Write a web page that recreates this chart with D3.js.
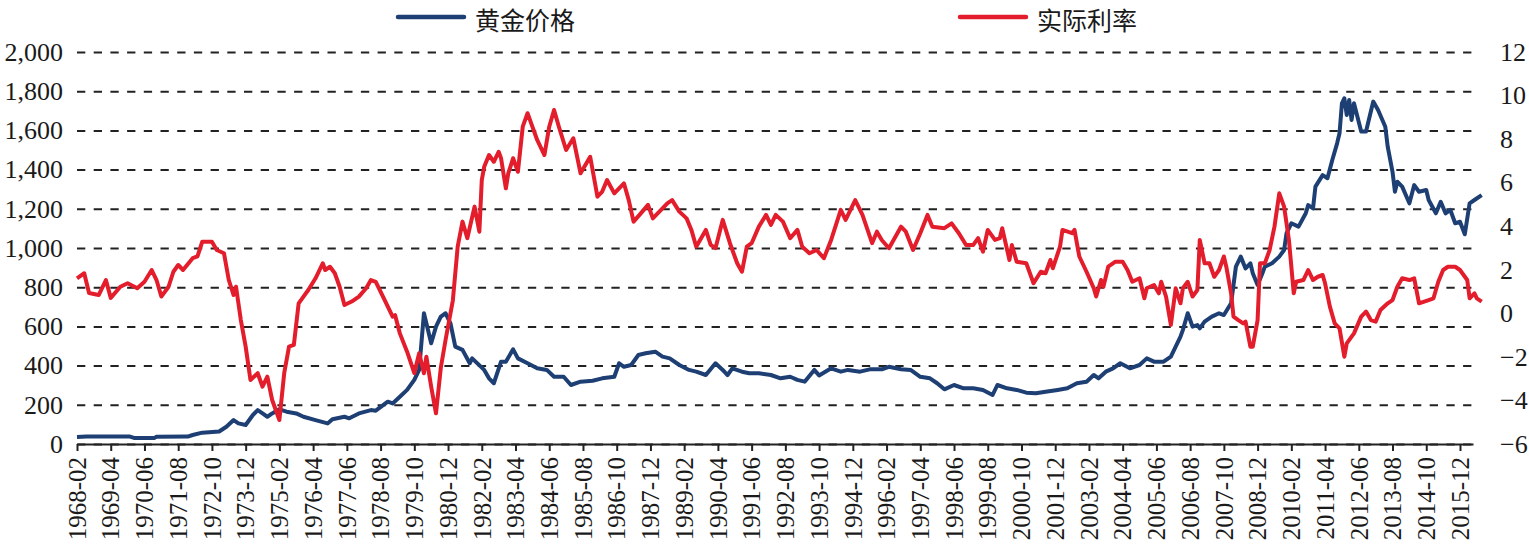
<!DOCTYPE html>
<html>
<head>
<meta charset="utf-8">
<script src="https://cdn.jsdelivr.net/npm/d3@7"></script>
<style>
  body { margin: 0; background: #fff; }
  svg text { fill: #1a1a1a; }
</style>
</head>
<body>
<svg id="chart" width="1529" height="547"></svg>
<script>
// gold price, USD/oz (left axis)
const goldSeries = [
  ['1968-02',36],['1968-06',38],['1969-12',38],['1970-02',30],['1970-10',30],['1970-11',37],
  ['1971-12',38],['1972-02',46],['1972-06',58],['1973-01',64],['1973-04',88],['1973-07',122],
  ['1973-09',105],['1973-12',97],['1974-03',148],['1974-05',173],['1974-07',156],['1974-09',139],
  ['1974-11',156],['1975-02',177],['1975-05',165],['1975-09',156],['1975-12',139],['1976-05',122],
  ['1976-10',105],['1976-12',126],['1977-05',139],['1977-07',131],['1977-11',156],['1978-04',173],
  ['1978-06',170],['1978-11',216],['1979-01',207],['1979-04',241],['1979-07',276],['1979-10',327],
  ['1979-12',378],['1980-02',667],['1980-03',616],['1980-05',514],['1980-07',599],['1980-09',650],
  ['1980-11',667],['1981-01',616],['1981-03',497],['1981-06',480],['1981-09',412],['1981-10',437],
  ['1982-03',378],['1982-05',335],['1982-07',310],['1982-10',420],['1982-12',420],['1983-03',483],
  ['1983-05',437],['1983-09',412],['1984-01',386],['1984-05',378],['1984-08',343],['1984-12',343],
  ['1985-03',301],['1985-07',318],['1985-12',323],['1986-04',335],['1986-09',343],['1986-11',412],
  ['1987-01',394],['1987-04',403],['1987-07',454],['1987-10',463],['1988-02',471],['1988-05',446],
  ['1988-08',437],['1988-12',403],['1989-04',378],['1989-07',369],['1989-11',352],['1990-03',412],
  ['1990-06',378],['1990-08',352],['1990-10',386],['1991-02',369],['1991-05',361],['1991-09',361],
  ['1992-02',352],['1992-06',335],['1992-10',343],['1993-01',327],['1993-04',318],['1993-08',378],
  ['1993-10',350],['1994-03',386],['1994-07',369],['1994-10',378],['1995-03',369],['1995-07',381],
  ['1995-12',381],['1996-03',394],['1996-08',381],['1996-12',378],['1997-04',343],['1997-08',335],
  ['1997-11',310],['1998-02',279],['1998-06',301],['1998-10',284],['1999-02',284],['1999-06',276],
  ['1999-10',250],['1999-12',301],['2000-04',284],['2000-08',276],['2000-12',262],['2001-04',259],
  ['2001-08',267],['2002-01',276],['2002-05',284],['2002-09',310],['2003-01',318],['2003-04',352],
  ['2003-06',335],['2003-09',369],['2003-12',386],['2004-03',412],['2004-07',386],['2004-11',403],
  ['2005-02',437],['2005-05',420],['2005-09',420],['2005-12',446],['2006-02',497],['2006-04',548],
  ['2006-05',582],['2006-07',667],['2006-09',599],['2006-11',607],['2006-12',590],['2007-02',624],
  ['2007-05',650],['2007-08',667],['2007-10',658],['2008-01',718],['2008-03',905],['2008-05',956],
  ['2008-07',896],['2008-09',922],['2008-10',871],['2008-12',811],['2009-02',871],['2009-03',905],
  ['2009-06',922],['2009-09',956],['2009-11',990],['2009-12',1075],['2010-02',1126],['2010-05',1109],
  ['2010-08',1177],['2010-09',1219],['2010-11',1202],['2010-12',1313],['2011-03',1372],['2011-05',1356],
  ['2011-07',1449],['2011-09',1534],['2011-10',1585],['2011-11',1738],['2011-12',1764],['2012-01',1679],
  ['2012-02',1755],['2012-03',1653],['2012-04',1738],['2012-07',1594],['2012-09',1594],['2012-12',1747],
  ['2013-02',1704],['2013-05',1619],['2013-06',1517],['2013-08',1389],['2013-09',1287],['2013-10',1338],
  ['2013-12',1313],['2014-03',1228],['2014-05',1321],['2014-07',1287],['2014-10',1296],['2014-11',1245],
  ['2015-02',1177],['2015-04',1236],['2015-06',1177],['2015-08',1194],['2015-10',1126],['2015-12',1134],
  ['2016-02',1070],['2016-04',1228],['2016-06',1245],['2016-09',1270]
]

// real interest rate, % (right axis)
const rateSeries = [
  ['1968-02',1.61],['1968-05',1.84],['1968-07',0.93],['1968-11',0.84],['1969-02',1.53],['1969-04',0.71],
  ['1969-08',1.22],['1969-11',1.38],['1970-03',1.15],['1970-06',1.45],['1970-09',1.99],['1970-11',1.53],
  ['1971-01',0.77],['1971-04',1.22],['1971-06',1.91],['1971-08',2.22],['1971-10',1.99],['1972-02',2.53],
  ['1972-04',2.61],['1972-06',3.29],['1972-10',3.29],['1972-12',2.91],['1973-03',2.76],['1973-05',1.53],
  ['1973-07',0.84],['1973-08',1.22],['1973-10',-0.31],['1973-12',-1.53],['1974-02',-3.06],['1974-05',-2.75],
  ['1974-07',-3.37],['1974-09',-2.91],['1974-11',-3.98],['1975-02',-4.90],['1975-04',-2.75],['1975-06',-1.53],
  ['1975-08',-1.45],['1975-10',0.46],['1975-12',0.77],['1976-02',1.07],['1976-05',1.61],['1976-08',2.30],
  ['1976-09',1.99],['1976-11',2.14],['1977-01',1.84],['1977-03',1.22],['1977-05',0.38],['1977-08',0.54],
  ['1977-11',0.77],['1978-02',1.15],['1978-04',1.53],['1978-06',1.45],['1978-09',0.77],['1979-01',-0.15],
  ['1979-02',-0.08],['1979-04',-0.92],['1979-07',-1.76],['1979-10',-2.75],['1979-12',-1.83],['1980-02',-2.75],
  ['1980-03',-1.99],['1980-05',-3.37],['1980-07',-4.59],['1980-09',-2.5],['1980-11',-1.2],['1981-02',0.6],
  ['1981-04',3.06],['1981-06',4.21],['1981-08',3.45],['1981-11',4.90],['1982-01',3.75],['1982-02',6.12],
  ['1982-03',6.73],['1982-05',7.27],['1982-07',6.96],['1982-09',7.42],['1982-10',7.12],['1982-12',5.74],
  ['1983-01',6.43],['1983-03',7.12],['1983-05',6.50],['1983-07',8.57],['1983-09',9.19],['1983-11',8.57],
  ['1984-01',7.96],['1984-04',7.27],['1984-06',8.57],['1984-08',9.34],['1984-10',8.57],['1985-01',7.50],
  ['1985-04',8.04],['1985-07',6.43],['1985-11',7.19],['1986-02',5.36],['1986-04',5.59],['1986-06',6.12],
  ['1986-09',5.51],['1987-01',5.97],['1987-03',5.20],['1987-05',4.21],['1987-08',4.59],['1987-11',4.98],
  ['1988-01',4.36],['1988-03',4.59],['1988-07',5.05],['1988-09',5.20],['1988-12',4.67],['1989-03',4.36],
  ['1989-05',3.83],['1989-07',3.06],['1989-11',3.83],['1990-01',3.14],['1990-03',2.99],['1990-06',4.29],
  ['1990-09',3.22],['1990-12',2.30],['1991-02',1.91],['1991-04',3.06],['1991-06',3.22],['1991-09',3.98],
  ['1991-12',4.52],['1992-02',4.06],['1992-04',4.52],['1992-07',4.21],['1992-10',3.45],['1993-01',3.83],
  ['1993-03',3.06],['1993-06',2.76],['1993-09',2.91],['1993-12',2.53],['1994-03',3.37],['1994-07',4.75],
  ['1994-09',4.29],['1995-01',5.20],['1995-04',4.52],['1995-08',3.22],['1995-10',3.75],['1995-12',3.37],
  ['1996-03',2.99],['1996-08',3.98],['1996-10',3.75],['1997-01',2.91],['1997-04',3.68],['1997-07',4.52],
  ['1997-09',3.98],['1998-02',3.91],['1998-05',4.13],['1998-08',3.68],['1998-11',3.14],['1999-02',3.14],
  ['1999-04',3.45],['1999-06',2.83],['1999-08',3.83],['1999-11',3.37],['2000-01',3.45],['2000-02',3.91],
  ['2000-05',2.45],['2000-06',3.14],['2000-08',2.37],['2000-12',2.30],['2001-03',1.38],['2001-06',1.91],
  ['2001-08',1.84],['2001-10',2.45],['2001-11',2.07],['2002-02',3.06],['2002-03',3.83],['2002-07',3.68],
  ['2002-08',3.83],['2002-10',2.61],['2003-01',1.91],['2003-04',1.15],['2003-05',0.77],['2003-07',1.53],
  ['2003-08',1.22],['2003-10',2.14],['2004-01',2.37],['2004-04',2.37],['2004-06',1.99],['2004-08',1.45],
  ['2004-11',1.61],['2005-01',0.69],['2005-02',1.15],['2005-05',1.30],['2005-07',0.92],['2005-08',1.45],
  ['2005-10',0.77],['2005-12',-0.53],['2006-01',0.31],['2006-02',1.15],['2006-04',0.46],['2006-05',1.15],
  ['2006-07',1.45],['2006-09',0.77],['2006-11',1.07],['2006-12',3.37],['2007-02',2.30],['2007-04',2.30],
  ['2007-06',1.68],['2007-08',1.99],['2007-10',2.61],['2007-11',2.14],['2008-01',0.92],['2008-02',-0.15],
  ['2008-04',-0.31],['2008-06',-0.46],['2008-07',-0.38],['2008-09',-1.53],['2008-10',-1.53],['2008-12',-0.31],
  ['2009-01',2.30],['2009-03',2.30],['2009-05',2.91],['2009-07',3.98],['2009-09',5.51],['2009-11',4.90],
  ['2010-01',3.37],['2010-03',0.92],['2010-04',1.45],['2010-07',1.53],['2010-09',1.99],['2010-11',1.53],
  ['2011-01',1.68],['2011-03',1.76],['2011-04',1.38],['2011-06',0.31],['2011-08',-0.46],['2011-10',-0.69],
  ['2011-12',-1.99],['2012-01',-1.38],['2012-04',-0.92],['2012-07',-0.15],['2012-09',0.08],['2012-11',-0.31],
  ['2013-01',-0.38],['2013-03',0.15],['2013-06',0.46],['2013-08',0.61],['2013-10',1.22],['2013-12',1.61],
  ['2014-03',1.53],['2014-05',1.61],['2014-07',0.46],['2014-11',0.61],['2015-01',0.69],['2015-03',1.45],
  ['2015-05',1.99],['2015-07',2.14],['2015-10',2.14],['2015-12',1.99],['2016-03',1.53],['2016-04',0.69],
  ['2016-06',0.92],['2016-07',0.69],['2016-09',0.54]
]

const leftTicks = [0, 200, 400, 600, 800, 1000, 1200, 1400, 1600, 1800, 2000]
const rightTicks = [-6, -4, -2, 0, 2, 4, 6, 8, 10, 12]
const xTickLabels = ['1968-02','1969-04','1970-06','1971-08','1972-10','1973-12','1975-02','1976-04',
  '1977-06','1978-08','1979-10','1980-12','1982-02','1983-04','1984-06','1985-08','1986-10','1987-12',
  '1989-02','1990-04','1991-06','1992-08','1993-10','1994-12','1996-02','1997-04','1998-06','1999-08',
  '2000-10','2001-12','2003-02','2004-04','2005-06','2006-08','2007-10','2008-12','2010-02','2011-04',
  '2012-06','2013-08','2014-10','2015-12']
const legendNames = ['黄金价格', '实际利率']
const colors = ['#1d3f74', '#e31d2b']

// months counted from 1968-02
const monthIndex = s => {
  const [yy, mm] = s.split('-').map(Number)
  return (yy - 1968) * 12 + (mm - 2)
}

const plotLeft = 77, plotRight = 1473, plotTop = 52, plotBottom = 444

const x = d3.scaleLinear().domain([0, 579.4]).range([plotLeft, plotRight])
const yL = d3.scaleLinear().domain([0, 2000]).range([plotBottom, plotTop])
const yR = d3.scaleLinear().domain([-6, 12]).range([plotBottom, plotTop])

const svg = d3.select('#chart')
const serif = '"Liberation Serif", "Times New Roman", serif'

// dashed gridlines
const grid = svg.append('g')
  .attr('transform', `translate(${plotLeft},0)`)
  .call(d3.axisLeft(yL).tickValues(leftTicks).tickSize(-(plotRight - plotLeft)).tickFormat(''))
grid.select('.domain').remove()
grid.selectAll('line')
  .attr('stroke', '#222')
  .attr('stroke-width', 2)
  .attr('stroke-dasharray', '8.3,8.4')

// left labels
const la = svg.append('g')
  .attr('transform', `translate(${plotLeft},0)`)
  .call(d3.axisLeft(yL).tickValues(leftTicks).tickSize(0).tickPadding(14).tickFormat(d3.format(',')))
la.select('.domain').remove()
la.selectAll('text').attr('font-family', serif).attr('font-size', 26)

// right labels
const ra = svg.append('g')
  .attr('transform', `translate(1488,0)`)
  .call(d3.axisRight(yR).tickValues(rightTicks).tickSize(0).tickPadding(12))
ra.select('.domain').remove()
ra.selectAll('text').attr('font-family', serif).attr('font-size', 26)

// x axis
const xa = svg.append('g')
  .attr('transform', `translate(0,${plotBottom})`)
  .call(d3.axisBottom(x)
    .tickValues(xTickLabels.map(monthIndex))
    .tickFormat((d, i) => xTickLabels[i])
    .tickSize(7)
    .tickSizeOuter(0))
xa.select('.domain').attr('stroke', '#222').attr('stroke-width', 2)
xa.selectAll('.tick line').attr('stroke', '#222').attr('stroke-width', 2)
xa.selectAll('text')
  .attr('font-family', serif)
  .attr('font-size', 25)
  .attr('transform', 'rotate(-90)')
  .attr('text-anchor', 'end')
  .attr('x', -13)
  .attr('y', 0)
  .attr('dy', '0.33em')

// lines
const goldLine = d3.line()
  .x(d => x(monthIndex(d[0])))
  .y(d => yL(d[1]))
const rateLine = d3.line()
  .x(d => x(monthIndex(d[0])))
  .y(d => yR(d[1]))

svg.append('path')
  .datum(goldSeries)
  .attr('d', goldLine)
  .attr('fill', 'none')
  .attr('stroke', colors[0])
  .attr('stroke-width', 4)
  .attr('stroke-linejoin', 'round')

svg.append('path')
  .datum(rateSeries)
  .attr('d', rateLine)
  .attr('fill', 'none')
  .attr('stroke', colors[1])
  .attr('stroke-width', 4)
  .attr('stroke-linejoin', 'round')

// legend
const legendX = [398, 960]
legendNames.forEach((name, i) => {
  const g = svg.append('g').attr('transform', `translate(${legendX[i]},17)`)
  g.append('line')
    .attr('x1', 0).attr('x2', 66)
    .attr('stroke', colors[i]).attr('stroke-width', 4.5).attr('stroke-linecap', 'round')
  g.append('text')
    .attr('x', 77).attr('y', 12.5)
    .attr('font-family', '"Noto Sans CJK SC", sans-serif')
    .attr('font-size', 25)
    .text(name)
})
</script>
</body>
</html>
